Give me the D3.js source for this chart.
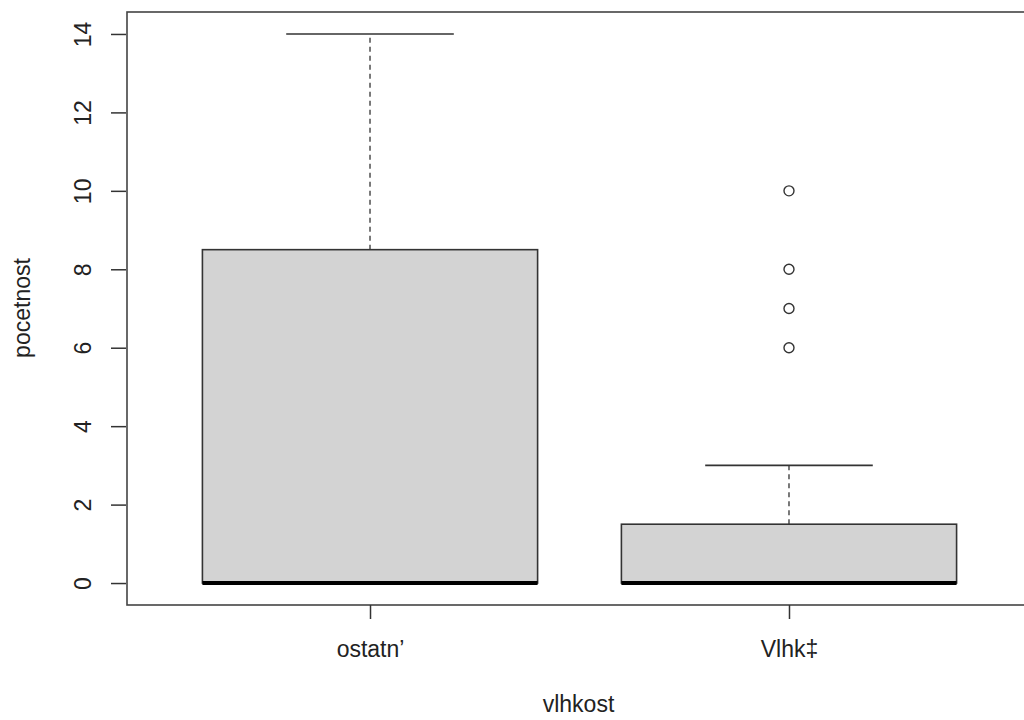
<!DOCTYPE html>
<html>
<head>
<meta charset="utf-8">
<script src="https://cdn.jsdelivr.net/npm/d3@7"></script>
<style>
    body { margin: 0; background: #fff; }
    text { font-family: "Liberation Sans", Arial, sans-serif; fill: #222; }
</style>
</head>
<body>
<svg id="chart"></svg>
<script>
const WIDTH = 1024;
const HEIGHT = 720;
const FONT_SIZE = '23px';

// One entry per group
const groups = ['ostatn’', 'Vlhk‡'];
const lowerWhisker = [0, 0];
const q1 = [0, 0];
const medians = [0, 0];
const q3 = [8.5, 1.5];
const upperWhisker = [14, 3];
const outliers = [[], [6, 7, 8, 10]];
const yTicks = [0, 2, 4, 6, 8, 10, 12, 14];

const boxWex = 0.8;

let svg = d3.select('#chart')
    .attr('width', WIDTH)
    .attr('height', HEIGHT);

// R style 4% extension of the data range
let x = d3.scaleLinear()
    .domain([0.42, 2.58])
    .range([127, 1032]);
let y = d3.scaleLinear()
    .domain([-0.56, 14.56])
    .range([605, 12]);

let data = groups.map((g, i) => ({
    name: g,
    pos: i + 1,
    lo: lowerWhisker[i],
    q1: q1[i],
    med: medians[i],
    q3: q3[i],
    hi: upperWhisker[i],
    out: outliers[i],
}));

let boxW = x(1 + boxWex / 2) - x(1 - boxWex / 2);
let capW = boxW / 2;

let box = svg.selectAll('.box')
    .data(data)
    .enter().append('g')
    .attr('class', 'box');

// upper whisker (dashed)
box.append('line')
    .attr('x1', d => x(d.pos)).attr('x2', d => x(d.pos))
    .attr('y1', d => y(d.q3)).attr('y2', d => y(d.hi))
    .attr('stroke', '#333').attr('stroke-width', 1.3)
    .attr('stroke-dasharray', '5,4');
// lower whisker (dashed)
box.append('line')
    .attr('x1', d => x(d.pos)).attr('x2', d => x(d.pos))
    .attr('y1', d => y(d.q1)).attr('y2', d => y(d.lo))
    .attr('stroke', '#333').attr('stroke-width', 1.3)
    .attr('stroke-dasharray', '5,4');
// caps
box.append('line')
    .attr('x1', d => x(d.pos) - capW / 2).attr('x2', d => x(d.pos) + capW / 2)
    .attr('y1', d => y(d.hi)).attr('y2', d => y(d.hi))
    .attr('stroke', '#333').attr('stroke-width', 1.6);
box.append('line')
    .attr('x1', d => x(d.pos) - capW / 2).attr('x2', d => x(d.pos) + capW / 2)
    .attr('y1', d => y(d.lo)).attr('y2', d => y(d.lo))
    .attr('stroke', '#333').attr('stroke-width', 1.6);
// box
box.append('rect')
    .attr('x', d => x(d.pos) - boxW / 2)
    .attr('y', d => y(d.q3))
    .attr('width', boxW)
    .attr('height', d => y(d.q1) - y(d.q3))
    .attr('fill', '#d3d3d3')
    .attr('stroke', '#333')
    .attr('stroke-width', 1.6);
// median
box.append('line')
    .attr('x1', d => x(d.pos) - boxW / 2).attr('x2', d => x(d.pos) + boxW / 2)
    .attr('y1', d => y(d.med)).attr('y2', d => y(d.med))
    .attr('stroke', '#000').attr('stroke-width', 4);
// outliers
box.selectAll('.outlier')
    .data(d => d.out.map(v => ({ pos: d.pos, v: v })))
    .enter().append('circle')
    .attr('class', 'outlier')
    .attr('cx', d => x(d.pos))
    .attr('cy', d => y(d.v))
    .attr('r', 5)
    .attr('fill', 'none')
    .attr('stroke', '#333')
    .attr('stroke-width', 1.4);

// plot frame
svg.append('rect')
    .attr('x', x.range()[0])
    .attr('y', y.range()[1])
    .attr('width', x.range()[1] - x.range()[0])
    .attr('height', y.range()[0] - y.range()[1])
    .attr('fill', 'none')
    .attr('stroke', '#444')
    .attr('stroke-width', 1.6);

// y axis
let yAxis = svg.append('g')
    .attr('transform', `translate(${x.range()[0] - 1}, 0)`)
    .call(d3.axisLeft(y).tickValues(yTicks).tickSize(15).tickSizeOuter(0));
yAxis.select('.domain').remove();
yAxis.selectAll('.tick line').attr('stroke', '#333').attr('stroke-width', 1.5);
yAxis.selectAll('.tick text')
    .attr('x', 0).attr('y', 0).attr('dy', null)
    .attr('transform', 'translate(-43,0) rotate(-90)')
    .attr('text-anchor', 'middle')
    .attr('dominant-baseline', 'central')
    .style('font-size', FONT_SIZE)
    .style('font-family', '"Liberation Sans", Arial, sans-serif')
    .attr('fill', '#222');

// x axis
let xAxis = svg.append('g')
    .attr('transform', `translate(0, ${y.range()[0]})`)
    .call(d3.axisBottom(x).tickValues(data.map(d => d.pos))
        .tickFormat((d, i) => groups[i]).tickSize(14).tickSizeOuter(0));
xAxis.select('.domain').remove();
xAxis.selectAll('.tick line').attr('stroke', '#333').attr('stroke-width', 1.5);
xAxis.selectAll('.tick text')
    .attr('y', 44).attr('dy', null)
    .attr('dominant-baseline', 'central')
    .style('font-size', FONT_SIZE)
    .style('font-family', '"Liberation Sans", Arial, sans-serif')
    .attr('fill', '#222');

// axis titles
svg.append('text')
    .attr('x', (x(1) + x(2)) / 2 - 1)
    .attr('y', 704)
    .attr('text-anchor', 'middle')
    .attr('dominant-baseline', 'central')
    .style('font-size', FONT_SIZE)
    .text('vlhkost');

svg.append('text')
    .attr('transform', 'translate(22, 308) rotate(-90)')
    .attr('text-anchor', 'middle')
    .attr('dominant-baseline', 'central')
    .style('font-size', FONT_SIZE)
    .text('pocetnost');
</script>
</body>
</html>
